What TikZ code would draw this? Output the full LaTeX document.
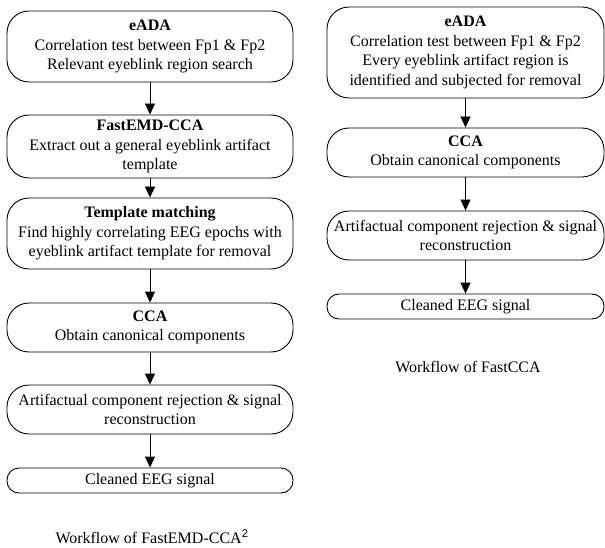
\documentclass[tikz,border=0pt]{standalone}
\usepackage{fontspec}
\setmainfont{Liberation Serif}
\newfontfamily\sansf{Liberation Sans}
\usetikzlibrary{arrows.meta}
\tikzset{
  flowbox/.style={draw=black, line width=0.9pt, rounded corners=22pt, align=center,
    inner sep=0pt, font=\fontsize{16}{19.5}\selectfont},
  thinbox/.style={flowbox, rounded corners=12pt},
  flowarrow/.style={line width=0.9pt, -{Triangle[width=10pt,length=11pt]}},
  caption/.style={font=\fontsize{16}{19}\selectfont}
}
\begin{document}
\begin{tikzpicture}[x=1pt,y=-1pt]
\useasboundingbox (0,0) rectangle (605,548);
% left column
\node[flowbox, minimum width=286pt, minimum height=71pt] (l1) at (150,46.5)
  {\textbf{eADA}\\Correlation test between Fp1 \& Fp2\\Relevant eyeblink region search};
\node[flowbox, minimum width=286pt, minimum height=63pt] (l2) at (150,146.5)
  {\textbf{FastEMD-CCA}\\Extract out a general eyeblink artifact\\template};
\node[flowbox, minimum width=286pt, minimum height=71pt] (l3) at (150,233.5)
  {\textbf{Template matching}\\Find highly correlating EEG epochs with\\eyeblink artifact template for removal};
\node[flowbox, minimum width=286pt, minimum height=49pt] (l4) at (150,327.5)
  {\textbf{CCA}\\Obtain canonical components};
\node[flowbox, minimum width=286pt, minimum height=49pt] (l5) at (150,409.5)
  {Artifactual component rejection \& signal\\reconstruction};
\node[thinbox, minimum width=286pt, minimum height=25pt] (l6) at (150,480.5)
  {Cleaned EEG signal};
\node[caption] (lc) at (152,537) {Workflow of FastEMD-CCA\textsuperscript{\sansf 2}};
\draw[flowarrow] (l1) -- (l2);
\draw[flowarrow] (l2) -- (l3);
\draw[flowarrow] (l3) -- (l4);
\draw[flowarrow] (l4) -- (l5);
\draw[flowarrow] (l5) -- (l6);
% right column
\node[flowbox, minimum width=277pt, minimum height=91pt] (r1) at (465.5,52.5)
  {\textbf{eADA}\\Correlation test between Fp1 \& Fp2\\Every eyeblink artifact region is\\identified and subjected for removal};
\node[flowbox, minimum width=277pt, minimum height=49pt] (r2) at (465.5,152.5)
  {\textbf{CCA}\\Obtain canonical components};
\node[flowbox, minimum width=277pt, minimum height=49pt] (r3) at (465.5,235.5)
  {Artifactual component rejection \& signal\\reconstruction};
\node[thinbox, minimum width=277pt, minimum height=25pt] (r4) at (465.5,306.5)
  {Cleaned EEG signal};
\node[caption] (rc) at (468,367) {Workflow of FastCCA};
\draw[flowarrow] (r1) -- (r2);
\draw[flowarrow] (r2) -- (r3);
\draw[flowarrow] (r3) -- (r4);
\end{tikzpicture}
\end{document}
